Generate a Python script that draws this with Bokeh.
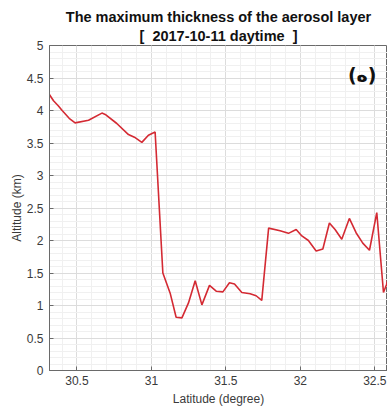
import numpy as np
from bokeh.plotting import figure
from bokeh.models import FixedTicker, Title, Label, Range1d
from bokeh.embed import file_html
from bokeh.resources import INLINE

# ---- data ----
latitude = [30.314, 30.343, 30.376, 30.401, 30.448, 30.488, 30.578, 30.668, 30.690,
            30.768, 30.846, 30.886, 30.936, 30.980, 31.025, 31.077, 31.126, 31.166,
            31.205, 31.249, 31.294, 31.339, 31.390, 31.435, 31.480, 31.524, 31.558,
            31.607, 31.663, 31.703, 31.741, 31.787, 31.864, 31.920, 31.972, 32.010,
            32.054, 32.106, 32.151, 32.195, 32.233, 32.278, 32.329, 32.374, 32.419,
            32.464, 32.513, 32.558, 32.578, 32.610]
altitude = [4.25, 4.15, 4.07, 4.00, 3.88, 3.81, 3.85, 3.96, 3.94,
            3.80, 3.63, 3.59, 3.51, 3.62, 3.67, 1.50, 1.19, 0.82,
            0.81, 1.04, 1.38, 1.01, 1.31, 1.22, 1.21, 1.35, 1.33,
            1.20, 1.18, 1.15, 1.08, 2.19, 2.15, 2.11, 2.17, 2.07,
            2.00, 1.84, 1.87, 2.27, 2.17, 2.02, 2.34, 2.12, 1.96,
            1.85, 2.43, 1.20, 1.32, 1.60]

x_ticks = [30.5, 31, 31.5, 32, 32.5]
x_tick_labels = ["30.5", "31", "31.5", "32", "32.5"]
y_ticks = [0, 0.5, 1, 1.5, 2, 2.5, 3, 3.5, 4, 4.5, 5]
y_tick_labels = ["0", "0.5", "1", "1.5", "2", "2.5", "3", "3.5", "4", "4.5", "5"]

title_line1 = "The maximum thickness of the aerosol layer"
title_line2 = "[\u00a0\u00a02017-10-11 daytime\u00a0\u00a0]"
panel_tag = "(ه)"
x_label = "Latitude (degree)"
y_label = "Altitude (km)"

FONT = "Liberation Sans"
TXT = "#3a3a3a"
AX = "#6a6a6a"

p = figure(width=387, height=408, output_backend="svg", toolbar_location=None,
           x_range=Range1d(30.316, 32.585), y_range=Range1d(0, 5),
           min_border_left=49, min_border_right=0, min_border_top=45,
           min_border_bottom=37, title=None)
p.background_fill_color = "white"
p.border_fill_color = "white"
p.outline_line_color = AX
p.outline_line_width = 1

x_minor = [round(v, 2) for v in np.arange(30.3, 32.61, 0.1)]
y_minor = [round(v, 2) for v in np.arange(0, 5.01, 0.1)]
xt = FixedTicker(ticks=x_ticks, minor_ticks=x_minor)
yt = FixedTicker(ticks=y_ticks, minor_ticks=y_minor)

for ax, t, labs in ((p.xaxis[0], xt, dict(zip(x_ticks, x_tick_labels))),
                    (p.yaxis[0], yt, dict(zip(y_ticks, y_tick_labels)))):
    ax.ticker = t
    ax.major_label_overrides = labs
    ax.major_tick_in = 4
    ax.major_tick_out = 0
    ax.minor_tick_in = 0
    ax.minor_tick_out = 0
    ax.axis_line_color = AX
    ax.major_tick_line_color = AX
    ax.major_label_text_font = FONT
    ax.major_label_text_font_size = "12px"
    ax.major_label_text_color = TXT
    ax.axis_label_text_font = FONT
    ax.axis_label_text_font_size = "12px"
    ax.axis_label_text_font_style = "normal"
    ax.axis_label_text_color = TXT

p.xaxis.axis_label = x_label
p.yaxis.axis_label = y_label
p.xaxis.major_label_standoff = 5
p.xaxis.axis_label_standoff = 4
p.yaxis.major_label_standoff = 6
p.yaxis.axis_label_standoff = 0

p.xgrid.ticker = xt
p.ygrid.ticker = yt
for g in (p.xgrid[0], p.ygrid[0]):
    g.grid_line_color = "#dcdcdc"
    g.grid_line_width = 1
    g.minor_grid_line_color = "#f0f0f0"
    g.minor_grid_line_width = 1

t2 = Title(text=title_line2, align="center", text_font=FONT, text_font_size="14.5px",
           text_font_style="bold", text_color="#111111", standoff=3, offset=0)
t1 = Title(text=title_line1, align="center", text_font=FONT, text_font_size="14.5px",
           text_font_style="bold", text_color="#111111", standoff=0, offset=0)
p.add_layout(t2, "above")
p.add_layout(t1, "above")

p.line(latitude, altitude, line_color="#d42a33", line_width=1.6)

p.add_layout(Label(x=32.415, y=4.54, text=panel_tag, text_align="center",
                   text_baseline="middle", text_font="DejaVu Sans",
                   text_font_size="19px", text_font_style="bold", text_color="#111111"))

open("out.html", "w").write(file_html(p, INLINE))
